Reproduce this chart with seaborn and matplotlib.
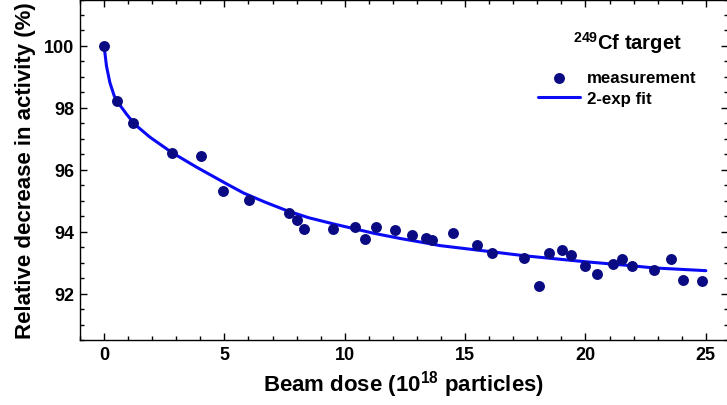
import matplotlib
matplotlib.use("Agg")
import matplotlib.pyplot as plt
import seaborn as sns
from matplotlib.ticker import MultipleLocator

# measured points (beam dose in 1e18 particles, relative activity in %)
dose = [0.0, 0.55, 1.22, 2.82, 4.02, 4.92, 6.01, 7.67, 8.03, 8.30, 9.53, 10.41,
        10.84, 11.29, 12.10, 12.80, 13.38, 13.63, 14.51, 15.50, 16.13, 17.46,
        18.07, 18.47, 19.01, 19.41, 19.99, 20.47, 21.15, 21.53, 21.92, 22.85,
        23.57, 24.03, 24.83]
activity = [100.0, 98.21, 97.52, 96.55, 96.46, 95.30, 95.01, 94.60, 94.37, 94.08,
            94.09, 94.15, 93.76, 94.15, 94.05, 93.90, 93.80, 93.72, 93.95, 93.57,
            93.31, 93.15, 92.25, 93.32, 93.40, 93.26, 92.89, 92.64, 92.94, 93.12,
            92.89, 92.75, 93.12, 92.44, 92.42]

# fit curve
fit_dose = [0.0, 0.10, 0.24, 0.42, 0.58, 0.93, 1.27, 1.91, 2.81, 3.85, 5.10, 5.79,
            6.7, 7.59, 8.5, 9.53, 11.19, 12.3, 13.4, 13.95, 16.10, 17.48, 19.97,
            21.9, 22.81, 25.0]
fit_activity = [100.0, 99.35, 98.82, 98.39, 98.17, 97.80, 97.47, 97.05, 96.56, 96.08,
                95.54, 95.25, 94.95, 94.68, 94.45, 94.25, 93.95, 93.78, 93.63, 93.55,
                93.35, 93.22, 93.03, 92.90, 92.83, 92.74]

x_ticks = [0, 5, 10, 15, 20, 25]
y_ticks = [92, 94, 96, 98, 100]

NAVY = "#0a0a82"
BLUE = "#0a0af5"

sns.set_theme(style="ticks")
plt.rcParams.update({
    "font.family": ["Liberation Sans", "DejaVu Sans"],
    "font.weight": "bold",
    "mathtext.fontset": "custom",
    "mathtext.rm": "Liberation Sans:bold",
    "mathtext.it": "Liberation Sans:bold",
    "mathtext.bf": "Liberation Sans:bold",
    "mathtext.default": "bf",
    "axes.edgecolor": "black",
    "axes.labelcolor": "black",
    "text.color": "black",
    "xtick.color": "black",
    "ytick.color": "black",
    "xtick.labelcolor": "black",
    "ytick.labelcolor": "black",
})

fig = plt.figure(figsize=(7.27, 4.06), dpi=100)
fig.patch.set_facecolor("white")
ax = fig.add_axes([80 / 727, 1 - 341 / 406, 648 / 727, 340.5 / 406])
ax.set_facecolor("white")

sns.lineplot(x=fit_dose, y=fit_activity, ax=ax, color=BLUE, linewidth=2.2,
             sort=False, estimator=None, label="2-exp fit", zorder=2)
sns.scatterplot(x=dose, y=activity, ax=ax, color=NAVY, s=62, edgecolor=NAVY,
                linewidth=0, zorder=3, label="measurement")

ax.set_xlim(-1.0, 25.92)
ax.set_ylim(90.5, 101.5)
ax.set_xticks(x_ticks)
ax.set_yticks(y_ticks)
ax.xaxis.set_minor_locator(MultipleLocator(1))
ax.yaxis.set_minor_locator(MultipleLocator(0.5))
ax.tick_params(which="both", direction="in", top=True, right=True, width=1.0,
               labelsize=13, pad=4, colors="black")
ax.tick_params(which="major", length=5)
ax.tick_params(which="minor", length=2.9)
for lab in ax.get_xticklabels() + ax.get_yticklabels():
    lab.set_fontweight("bold")
for sp in ax.spines.values():
    sp.set_linewidth(1.0)
    sp.set_visible(True)
    sp.set_color("black")

ax.set_xlabel("Beam dose (10$^{18}$ particles)", fontsize=16, fontweight="bold",
              labelpad=4, color="black")
ax.set_ylabel("Relative decrease in activity (%)", fontsize=16, fontweight="bold",
              labelpad=6, color="black")

handles, labels = ax.get_legend_handles_labels()
order = [labels.index("measurement"), labels.index("2-exp fit")]
leg = ax.legend([handles[i] for i in order], [labels[i] for i in order],
                loc="upper left", bbox_to_anchor=(538 / 727, 1 - 71 / 406),
                bbox_transform=fig.transFigure, frameon=False,
                prop={"weight": "bold", "size": 12.2}, handlelength=2.5,
                handletextpad=0.4, labelspacing=0.36, borderpad=0,
                borderaxespad=0, scatterpoints=1)
for t in leg.get_texts():
    t.set_color("black")

fig.text(573 / 727, 1 - 50 / 406, r"$^{249}$Cf target", fontsize=14.5,
         fontweight="bold", ha="left", va="baseline", color="black")

fig.savefig("out.png", dpi=100, facecolor="white")
